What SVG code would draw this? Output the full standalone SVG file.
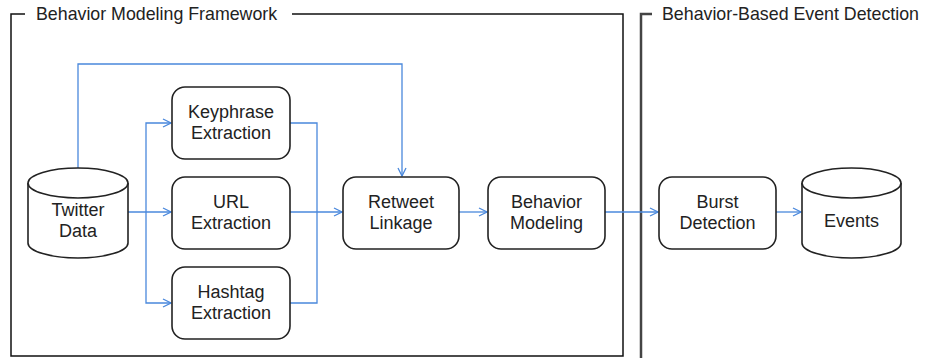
<svg xmlns="http://www.w3.org/2000/svg" width="926" height="358" viewBox="0 0 926 358">
<defs>
<marker id="arr" viewBox="0 0 10 10" refX="9" refY="5" markerWidth="10" markerHeight="10" markerUnits="userSpaceOnUse" orient="auto">
<path d="M1,1 L9,5 L1,9" fill="none" stroke="#4a88dc" stroke-width="1.3"/>
</marker>
<style>
.frame{fill:none;stroke:#111;stroke-width:1.5}
.box{fill:#fff;stroke:#222;stroke-width:1.6}
.t{font-family:"Liberation Sans",Arial,sans-serif;font-size:18px;fill:#222;text-anchor:middle}
.title{font-family:"Liberation Sans",Arial,sans-serif;font-size:17.8px;fill:#222}
.c{fill:none;stroke:#4a88dc;stroke-width:1.3}
</style>
</defs>
<rect width="926" height="358" fill="#fff"/>
<g id="frame-left">
<path class="frame" d="M25,14 H11 V356 H623 V14 H292"/>
<text class="title" x="36" y="20">Behavior Modeling Framework</text>
</g>
<g id="frame-right">
<path d="M652,14 H641 V358" fill="none" stroke="#444" stroke-width="2.5"/>
<text class="title" x="662" y="20">Behavior-Based Event Detection</text>
</g>
<g id="connectors">
<path class="c" d="M78,168 V64 H402 V176" marker-end="url(#arr)"/>
<path class="c" d="M128,212 H171" marker-end="url(#arr)"/>
<path class="c" d="M146,212 V123 H171" marker-end="url(#arr)"/>
<path class="c" d="M146,212 V303 H171" marker-end="url(#arr)"/>
<path class="c" d="M290,123 H317 V303 H290"/>
<path class="c" d="M290,212 H342" marker-end="url(#arr)"/>
<path class="c" d="M459,212 H487" marker-end="url(#arr)"/>
<path class="c" d="M605,212 H658" marker-end="url(#arr)"/>
<path class="c" d="M776,212 H801" marker-end="url(#arr)"/>
</g>
<g id="twitter-data">
<path class="box" d="M28,183 V243 A50,15 0 0 0 128,243 V183"/>
<ellipse class="box" cx="78" cy="183" rx="50" ry="15"/>
<text class="t" x="78" y="216">Twitter</text>
<text class="t" x="78" y="237">Data</text>
</g>
<g id="keyphrase">
<rect class="box" x="172" y="87" width="118" height="72" rx="13"/>
<text class="t" x="231" y="118">Keyphrase</text>
<text class="t" x="231" y="139">Extraction</text>
</g>
<g id="url">
<rect class="box" x="172" y="177" width="118" height="72" rx="13"/>
<text class="t" x="231" y="208">URL</text>
<text class="t" x="231" y="229">Extraction</text>
</g>
<g id="hashtag">
<rect class="box" x="172" y="267" width="118" height="72" rx="13"/>
<text class="t" x="231" y="298">Hashtag</text>
<text class="t" x="231" y="319">Extraction</text>
</g>
<g id="retweet">
<rect class="box" x="343" y="177" width="116" height="72" rx="13"/>
<text class="t" x="401" y="208">Retweet</text>
<text class="t" x="401" y="229">Linkage</text>
</g>
<g id="behavior">
<rect class="box" x="488" y="177" width="117" height="72" rx="13"/>
<text class="t" x="546.5" y="208">Behavior</text>
<text class="t" x="546.5" y="229">Modeling</text>
</g>
<g id="burst">
<rect class="box" x="659" y="177" width="117" height="72" rx="13"/>
<text class="t" x="717.5" y="208">Burst</text>
<text class="t" x="717.5" y="229">Detection</text>
</g>
<g id="events">
<path class="box" d="M802,183 V243 A49.5,15 0 0 0 901,243 V183"/>
<ellipse class="box" cx="851.5" cy="183" rx="49.5" ry="15"/>
<text class="t" x="851.5" y="227">Events</text>
</g>
</svg>
